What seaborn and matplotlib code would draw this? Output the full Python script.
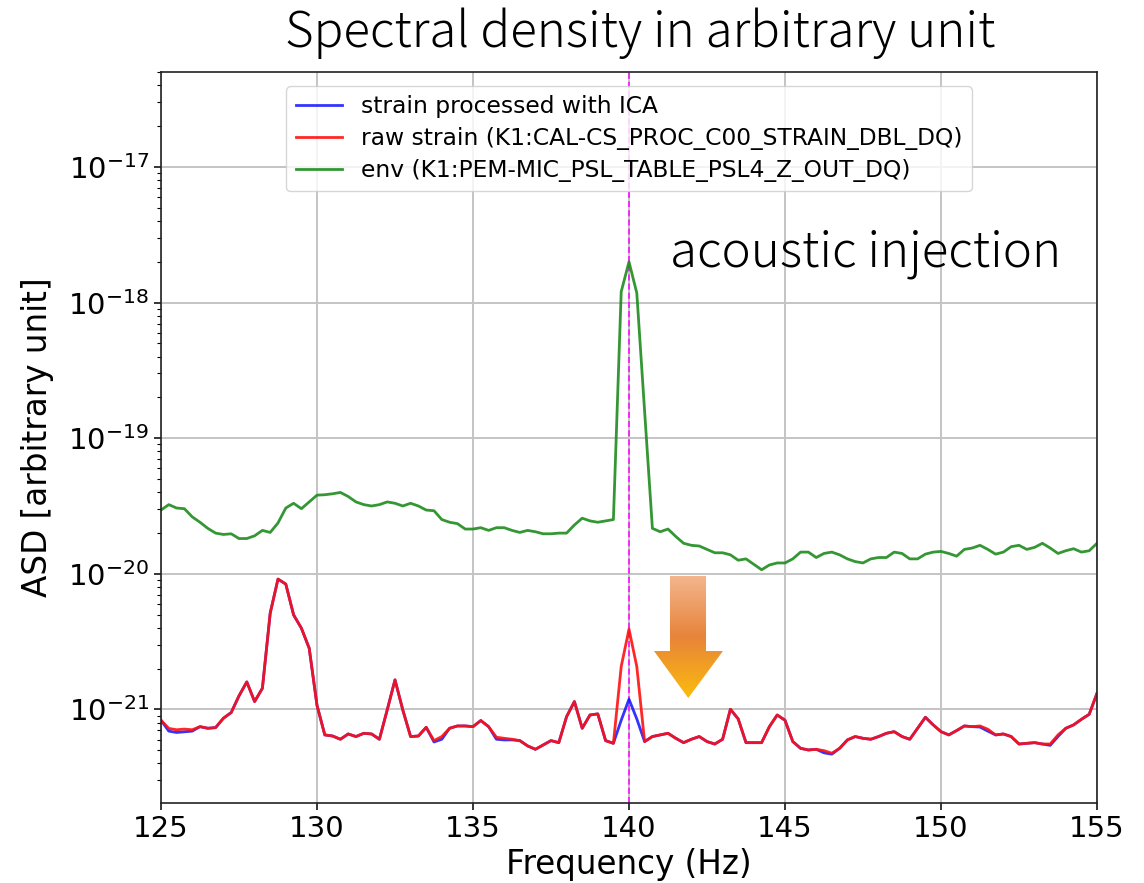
import numpy as np
import pandas as pd
import matplotlib
matplotlib.use("Agg")
import matplotlib.pyplot as plt
from matplotlib.patches import Polygon
from matplotlib.colors import LinearSegmentedColormap
from matplotlib.ticker import LogFormatterSciNotation, NullFormatter
import seaborn as sns

# ---------------- data ----------------
freq_start, freq_stop, freq_step = 125.0, 155.0, 0.25
frequency = np.arange(freq_start, freq_stop + freq_step / 2, freq_step)

# log10 of the ASD, 4 bins per Hz (125.00 ... 155.00)
log_env = [
    -19.53, -19.49, -19.515, -19.52,     # 125
    -19.58, -19.62, -19.665, -19.70,     # 126
    -19.71, -19.705, -19.74, -19.74,     # 127
    -19.72, -19.68, -19.695, -19.625,    # 128
    -19.515, -19.48, -19.52, -19.47,     # 129
    -19.42, -19.417, -19.41, -19.40,     # 130
    -19.43, -19.47, -19.49, -19.50,      # 131
    -19.49, -19.47, -19.48, -19.50,      # 132
    -19.48, -19.50, -19.53, -19.535,     # 133
    -19.60, -19.62, -19.63, -19.67,      # 134
    -19.67, -19.66, -19.68, -19.66,      # 135
    -19.66, -19.68, -19.695, -19.68,     # 136
    -19.69, -19.705, -19.705, -19.70,    # 137
    -19.70, -19.64, -19.59, -19.61,      # 138
    -19.62, -19.61, -19.60, -17.92,      # 139
    -17.70, -17.93, -18.80, -19.665,     # 140
    -19.69, -19.67, -19.725, -19.775,    # 141
    -19.79, -19.795, -19.82, -19.845,    # 142
    -19.845, -19.86, -19.90, -19.89,     # 143
    -19.93, -19.97, -19.935, -19.92,     # 144
    -19.92, -19.89, -19.84, -19.84,      # 145
    -19.88, -19.85, -19.84, -19.86,      # 146
    -19.89, -19.91, -19.92, -19.89,      # 147
    -19.88, -19.88, -19.84, -19.85,      # 148
    -19.89, -19.89, -19.855, -19.84,     # 149
    -19.835, -19.85, -19.87, -19.82,     # 150
    -19.81, -19.79, -19.82, -19.855,     # 151
    -19.84, -19.80, -19.79, -19.82,      # 152
    -19.805, -19.775, -19.81, -19.85,    # 153
    -19.83, -19.815, -19.84, -19.83,     # 154
    -19.775,                             # 155
]

log_raw = [
    -21.08, -21.14, -21.15, -21.145,     # 125
    -21.15, -21.127, -21.139, -21.134,   # 126
    -21.065, -21.023, -20.90, -20.797,   # 127
    -20.942, -20.844, -20.29, -20.039,   # 128
    -20.076, -20.303, -20.401, -20.549,  # 129
    -20.97, -21.188, -21.196, -21.22,    # 130
    -21.181, -21.20, -21.176, -21.181,   # 131
    -21.22, -21.004, -20.782, -21.004,   # 132
    -21.20, -21.196, -21.132, -21.23,    # 133
    -21.20, -21.139, -21.122, -21.122,   # 134
    -21.127, -21.082, -21.127, -21.205,  # 135
    -21.213, -21.22, -21.23, -21.269,    # 136
    -21.294, -21.262, -21.23, -21.245,   # 137
    -21.053, -20.942, -21.139, -21.041,  # 138
    -21.033, -21.23, -21.25, -20.684,    # 139
    -20.408, -20.684, -21.237, -21.20,   # 140
    -21.188, -21.176, -21.213, -21.245,  # 141
    -21.22, -21.20, -21.237, -21.255,    # 142
    -21.22, -20.999, -21.07, -21.245,    # 143
    -21.245, -21.245, -21.127, -21.041,  # 144
    -21.08, -21.237, -21.287, -21.299,   # 145
    -21.294, -21.304, -21.323, -21.287,  # 146
    -21.225, -21.20, -21.213, -21.22,    # 147
    -21.20, -21.176, -21.164, -21.20,    # 148
    -21.22, -21.139, -21.058, -21.114,   # 149
    -21.164, -21.188, -21.156, -21.122,  # 150
    -21.127, -21.122, -21.146, -21.188,  # 151
    -21.181, -21.20, -21.255, -21.25,    # 152
    -21.245, -21.255, -21.255, -21.188,  # 153
    -21.139, -21.114, -21.073, -21.036,  # 154
    -20.881,                             # 155
]

log_ica = [
    -21.08, -21.16, -21.17, -21.165,     # 125
    -21.16, -21.127, -21.139, -21.134,   # 126
    -21.065, -21.023, -20.90, -20.797,   # 127
    -20.942, -20.844, -20.29, -20.039,   # 128
    -20.076, -20.303, -20.401, -20.549,  # 129
    -20.97, -21.188, -21.196, -21.22,    # 130
    -21.181, -21.20, -21.176, -21.181,   # 131
    -21.22, -21.004, -20.782, -21.004,   # 132
    -21.20, -21.196, -21.132, -21.24,    # 133
    -21.22, -21.139, -21.122, -21.122,   # 134
    -21.127, -21.082, -21.127, -21.22,   # 135
    -21.225, -21.225, -21.23, -21.269,   # 136
    -21.294, -21.262, -21.23, -21.245,   # 137
    -21.053, -20.942, -21.139, -21.041,  # 138
    -21.033, -21.23, -21.25, -21.08,     # 139
    -20.925, -21.07, -21.237, -21.20,    # 140
    -21.188, -21.176, -21.213, -21.245,  # 141
    -21.22, -21.20, -21.237, -21.255,    # 142
    -21.22, -20.999, -21.07, -21.245,    # 143
    -21.245, -21.245, -21.127, -21.041,  # 144
    -21.08, -21.237, -21.287, -21.299,   # 145
    -21.294, -21.32, -21.33, -21.287,    # 146
    -21.225, -21.20, -21.213, -21.22,    # 147
    -21.20, -21.176, -21.164, -21.20,    # 148
    -21.22, -21.139, -21.058, -21.114,   # 149
    -21.164, -21.188, -21.156, -21.122,  # 150
    -21.127, -21.13, -21.16, -21.188,    # 151
    -21.181, -21.20, -21.255, -21.25,    # 152
    -21.245, -21.255, -21.265, -21.20,   # 153
    -21.139, -21.114, -21.073, -21.036,  # 154
    -20.881,                             # 155
]

series_labels = [
    "strain processed with ICA",
    "raw strain (K1:CAL-CS_PROC_C00_STRAIN_DBL_DQ)",
    "env (K1:PEM-MIC_PSL_TABLE_PSL4_Z_OUT_DQ)",
]
series_colors = ["#1010ff", "#ff1010", "#1e8c1e"]
series_alpha = [0.85, 0.9, 0.9]
injection_freq = 140.0
x_ticks = [125, 130, 135, 140, 145, 150, 155]
y_decades = [-21, -20, -19, -18, -17]
x_label = "Frequency (Hz)"
y_label = "ASD [arbitrary unit]"
title_text = "Spectral density in arbitrary unit"
annotation_text = "acoustic injection"

# ---------------- plot ----------------
plt.rcParams["font.family"] = ["DejaVu Sans"]
fig = plt.figure(figsize=(11.44, 8.83), dpi=100)
ax = fig.add_axes([161 / 1144, 1 - 803 / 883, 936 / 1144, 731 / 883])

for vals, lab, col, al in zip([log_ica, log_raw, log_env], series_labels,
                              series_colors, series_alpha):
    d = pd.DataFrame({"freq": frequency, "asd": 10.0 ** np.array(vals)})
    sns.lineplot(data=d, x="freq", y="asd", color=col, alpha=al, label=lab,
                 estimator=None, linewidth=2.0, ax=ax)

ax.set_yscale("log")
ylo, yhi = 10 ** -21.69, 10 ** -16.30
major = [10.0 ** e for e in y_decades]
minor = [m * 10.0 ** e for e in range(-22, -16) for m in range(2, 10)
         if ylo <= m * 10.0 ** e <= yhi]
ax.set_yticks(major)
ax.set_yticks(minor, minor=True)
ax.yaxis.set_major_formatter(LogFormatterSciNotation())
ax.yaxis.set_minor_formatter(NullFormatter())

ax.axvline(injection_freq, color="#ff00ff", linestyle="--", linewidth=1.1,
           dashes=(4, 2), zorder=1.5)

ax.grid(True, which="major", color="#c4c4c4", linewidth=1.4)
ax.set_axisbelow(True)
for s in ax.spines.values():
    s.set_color("#222222")
    s.set_linewidth(1.2)

ax.set_xticks(x_ticks)
ax.tick_params(axis="both", which="major", labelsize=21, length=5, width=1.1)
ax.tick_params(axis="y", which="minor", length=3, width=0.8)
ax.set_xlabel(x_label, fontsize=23.5, labelpad=4)
ax.set_ylabel(y_label, fontsize=23.5, labelpad=10)

handles, labels = ax.get_legend_handles_labels()
ax.legend(handles, labels, loc="upper center", fontsize=16.8, labelspacing=0.38,
          handlelength=2.0, borderaxespad=0.6, framealpha=0.8)

# gradient arrow annotation (axes coordinates)
arrow_pts = [(0.5438, 0.3105), (0.5823, 0.3105), (0.5823, 0.2079), (0.6004, 0.2079),
             (0.5633, 0.1436), (0.5267, 0.2079), (0.5438, 0.2079)]
poly = Polygon(arrow_pts, closed=True, transform=ax.transAxes, facecolor="none",
               edgecolor="none")
ax.add_patch(poly)
cmap = LinearSegmentedColormap.from_list(
    "arr", [(0.0, "#f3b68f"), (0.5, "#e8843a"), (1.0, "#fbbb0c")])
grad = np.linspace(0, 1, 256).reshape(-1, 1)
img = ax.imshow(grad, extent=(0.52, 0.61, 0.1436, 0.3105), transform=ax.transAxes,
                aspect="auto", cmap=cmap, origin="upper", zorder=6)
img.set_clip_path(poly)

ax.set_xlim(freq_start, freq_stop)
ax.set_ylim(ylo, yhi)

cjk = ["Noto Sans CJK JP", "DejaVu Sans"]
fig.text(640 / 1144, 1 - 33 / 883, title_text, ha="center", va="center",
         fontsize=35.5, family=cjk, fontweight="light")
ax.text(0.753, 0.752, annotation_text, transform=ax.transAxes, ha="center",
        va="center", fontsize=35.5, family=cjk, fontweight="light")

fig.savefig("out.png", dpi=100)
